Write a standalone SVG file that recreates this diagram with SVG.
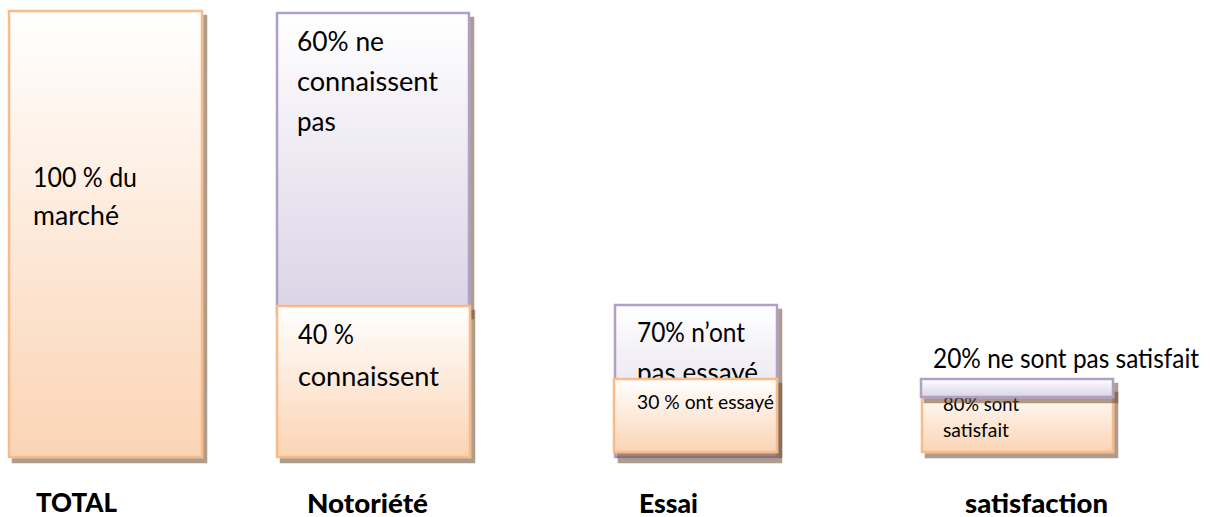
<svg xmlns="http://www.w3.org/2000/svg" width="1211" height="517" viewBox="0 0 1211 517">
<style>
.o{fill:url(#go);stroke:#F9BB88;stroke-width:2.5;filter:url(#sh)}
.p{fill:url(#gp);stroke:#B1A0C6;stroke-width:2.5;filter:url(#sh)}
.t{font-family:Lato,"Liberation Sans",sans-serif;font-size:26px;fill:#000}
.s{font-family:Lato,"Liberation Sans",sans-serif;font-size:20px;fill:#000}
.b{font-family:Lato,"Liberation Sans",sans-serif;font-size:27px;font-weight:900;fill:#000}
</style>
<defs>
<linearGradient id="go" x1="0" y1="0" x2="0" y2="1"><stop offset="0" stop-color="#FFFFFF"/><stop offset="1" stop-color="#FBD4B4"/></linearGradient>
<linearGradient id="gp" x1="0" y1="0" x2="0" y2="1"><stop offset="0" stop-color="#FFFFFF"/><stop offset="1" stop-color="#DAD3E6"/></linearGradient>
<filter id="sh" x="-10%" y="-10%" width="130%" height="150%">
<feGaussianBlur in="SourceAlpha" stdDeviation="0.7"/>
<feOffset dx="4" dy="5" result="b"/>
<feFlood flood-color="#6b4a30" flood-opacity="0.55"/>
<feComposite in2="b" operator="in" result="s"/>
<feMerge><feMergeNode in="s"/><feMergeNode in="SourceGraphic"/></feMerge>
</filter>
</defs>
<g id="connectors"/>
<g id="total">
<rect class="o" x="9" y="11" width="193" height="446"/>
<text class="t" x="33" y="187" textLength="104" lengthAdjust="spacingAndGlyphs">100 % du</text>
<text class="t" x="33" y="225" textLength="86" lengthAdjust="spacingAndGlyphs">marché</text>
</g>
<g id="notoriete">
<rect class="p" x="277" y="13" width="192" height="300"/>
<text class="t" x="297" y="51" textLength="87" lengthAdjust="spacingAndGlyphs">60% ne</text>
<text class="t" x="297" y="91" textLength="141" lengthAdjust="spacingAndGlyphs">connaissent</text>
<text class="t" x="297" y="131">pas</text>
<rect class="o" x="277" y="306" width="193" height="151"/>
<text class="t" x="298" y="344" textLength="56" lengthAdjust="spacingAndGlyphs">40 %</text>
<text class="t" x="298" y="386" textLength="141" lengthAdjust="spacingAndGlyphs">connaissent</text>
</g>
<g id="essai">
<rect class="p" x="615" y="305" width="162" height="152"/>
<text class="t" x="637" y="342" textLength="108" lengthAdjust="spacingAndGlyphs">70% n’ont</text>
<text class="t" x="637" y="382">pas essayé</text>
<rect class="o" x="614" y="379" width="163" height="73"/>
<text class="s" x="637" y="409" textLength="137" lengthAdjust="spacingAndGlyphs">30 % ont essayé</text>
</g>
<g id="satisfaction">
<rect class="o" x="922" y="388" width="191" height="64"/>
<text class="s" x="943" y="411" textLength="76" lengthAdjust="spacingAndGlyphs">80% sont</text>
<text class="s" x="943" y="437" textLength="66" lengthAdjust="spacingAndGlyphs">satisfait</text>
<rect class="p" x="921" y="379" width="192" height="18"/>
<text class="t" x="933" y="368" textLength="266" lengthAdjust="spacingAndGlyphs">20% ne sont pas satisfait</text>
</g>
<g id="labels">
<text class="b" x="36" y="512" textLength="81" lengthAdjust="spacingAndGlyphs">TOTAL</text>
<text class="b" x="307" y="513" textLength="121" lengthAdjust="spacingAndGlyphs">Notoriété</text>
<text class="b" x="639" y="513" textLength="59" lengthAdjust="spacingAndGlyphs">Essai</text>
<text class="b" x="965" y="513" textLength="143" lengthAdjust="spacingAndGlyphs">satisfaction</text>
</g>
</svg>
